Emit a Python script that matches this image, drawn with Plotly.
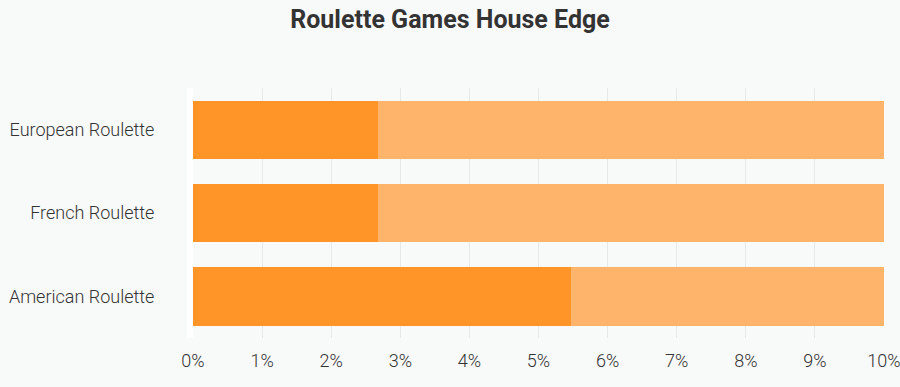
import plotly.graph_objects as go

categories = ["European Roulette", "French Roulette", "American Roulette"]
house_edge = [2.67, 2.67, 5.47]
remainder = [10 - v for v in house_edge]
x_ticks = list(range(0, 11))
x_tick_labels = [f"{t}%" for t in x_ticks]

fig = go.Figure()
fig.add_trace(go.Bar(y=categories, x=house_edge, orientation="h",
                     marker=dict(color="#FF9428", line=dict(width=0)), name="House Edge"))
fig.add_trace(go.Bar(y=categories, x=remainder, orientation="h",
                     marker=dict(color="#FFB46C", line=dict(width=0)), name="Rest"))

fig.update_layout(
    barmode="stack",
    bargap=0.3,
    width=900, height=387,
    paper_bgcolor="#F8F9F9", plot_bgcolor="#F8F9F9",
    margin=dict(l=193, r=16, t=88, b=49),
    showlegend=False,
    title=dict(text="<b>Roulette Games House Edge</b>", x=0.5, xanchor="center",
               y=0.95, yanchor="middle",
               font=dict(family="Roboto", size=25, color="#333333")),
    font=dict(family="Roboto", size=18, color="#444444", weight=300),
)
fig.update_xaxes(range=[0, 10], tickvals=x_ticks, ticktext=x_tick_labels,
                 showgrid=True, gridcolor="#E8E8E8", gridwidth=1,
                 zeroline=False, showline=False, ticks="", ticklabelstandoff=10,
                 ticklabeloverflow="allow", automargin=False,
                 tickfont=dict(family="Roboto", size=18, color="#333333", weight=300))
fig.update_yaxes(autorange="reversed", showgrid=False, zeroline=False,
                 showline=True, linecolor="#FFFFFF", linewidth=6,
                 ticks="", ticklabelstandoff=29, automargin=False,
                 tickfont=dict(family="Roboto", size=18, color="#333333", weight=300))

fig.write_html("out.html", config={"displayModeBar": False},
               post_script="document.body.style.margin='0';")
